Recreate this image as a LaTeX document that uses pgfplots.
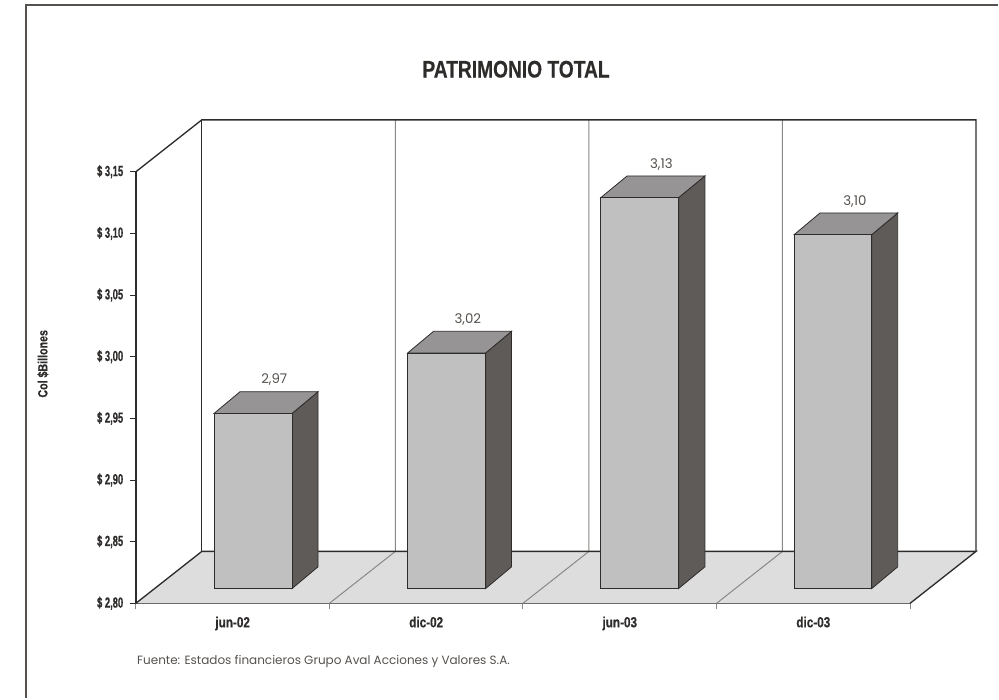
\documentclass[border=0pt]{standalone}
\usepackage{fontspec}
\usepackage{pgfplots}
\usepackage{pgfplotstable}
\pgfplotsset{compat=1.18}
\setmainfont{Liberation Sans}
\newfontfamily\narrow[FakeStretch=0.8,BoldFeatures={FakeBold=0.4}]{Liberation Sans}
\newfontfamily\tightsans[FakeStretch=0.64,BoldFeatures={FakeBold=0.4}]{Liberation Sans}
\newfontfamily\geo{Poppins}
\definecolor{floorgray}{HTML}{DDDDDD}
\definecolor{frontgray}{HTML}{C0C0C0}
\definecolor{topgray}{HTML}{969494}
\definecolor{sidegray}{HTML}{5F5B59}
\definecolor{edge}{HTML}{2E2C2B}
\definecolor{wall}{HTML}{8A8886}
\definecolor{framec}{HTML}{55514E}

% value labels: placed just over the back edge of each bar top
\pgfplotstableread{
x     y       lab
0.715 2.9716  2,97
1.715 3.0206  3,02
2.715 3.1466  3,13
3.715 3.1166  3,10
}\barlabels

\begin{document}
\begin{tikzpicture}
\begin{axis}[
    scale only axis,
    width=581.25pt,
    height=324pt,
    xmin=0, xmax=4,
    ymin=2.80, ymax=3.15,
    clip=false,
    axis lines=left,
    axis line style={-, edge, line width=1pt},
    tick align=outside,
    major tick length=4.5pt,
    minor tick length=4.5pt,
    xtick={0.5,1.5,2.5,3.5},
    xticklabels={jun-02,dic-02,jun-03,dic-03},
    minor xtick={0,1,2,3,4},
    major x tick style={draw=none},
    minor x tick style={wall, line width=0.75pt},
    ytick={2.80,2.85,2.90,2.95,3.00,3.05,3.10,3.15},
    yticklabels={{\$ 2,80},{\$ 2,85},{\$ 2,90},{\$ 2,95},{\$ 3,00},{\$ 3,05},{\$ 3,10},{\$ 3,15}},
    y tick style={edge, line width=0.75pt},
    xticklabel style={font=\narrow\bfseries\fontsize{11}{12}\selectfont, text=edge, yshift=-2pt},
    yticklabel style={font=\tightsans\bfseries\fontsize{11}{12}\selectfont, text=edge, xshift=-1.5pt},
    title={PATRIMONIO TOTAL},
    title style={at={(axis description cs:0.491,1.219)}, anchor=center,
        font=\narrow\bfseries\fontsize{18}{20}\selectfont, text=edge},
    ylabel={Col \$Billones},
    every axis y label/.style={at={(axis description cs:-0.12,0.555)}, anchor=center, rotate=90,
        font=\narrow\bfseries\fontsize{10}{11}\selectfont, text=edge},
]
% floor and walls
\addplot[fill=floorgray, draw=none] coordinates {(0,2.80) (4,2.80) (4.3406,2.8421) (0.3406,2.8421)} --cycle;
\addplot[wall, line width=0.75pt] coordinates {(1,2.80) (1.3406,2.8421) (1.3406,3.1921)};
\addplot[wall, line width=0.75pt] coordinates {(2,2.80) (2.3406,2.8421) (2.3406,3.1921)};
\addplot[wall, line width=0.75pt] coordinates {(3,2.80) (3.3406,2.8421) (3.3406,3.1921)};
\addplot[edge, line width=1pt] coordinates {(0,2.80) (0.3406,2.8421) (4.3406,2.8421) (4,2.80)};
\addplot[edge, line width=1pt] coordinates {(0,3.15) (0.3406,3.1921) (4.3406,3.1921) (4.3406,2.8421)};
\addplot[edge, line width=1pt] coordinates {(0.3406,3.1921) (0.3406,2.8421)};
% bar 1
\addplot[fill=sidegray, draw=edge, line width=0.6pt] coordinates {(0.807,2.812) (0.941,2.8296) (0.941,2.9716) (0.807,2.954)} --cycle;
\addplot[fill=topgray, draw=edge, line width=0.6pt] coordinates {(0.404,2.954) (0.807,2.954) (0.941,2.9716) (0.538,2.9716)} --cycle;
\addplot[fill=frontgray, draw=edge, line width=0.6pt] coordinates {(0.404,2.812) (0.807,2.812) (0.807,2.954) (0.404,2.954)} --cycle;
% bar 2
\addplot[fill=sidegray, draw=edge, line width=0.6pt] coordinates {(1.807,2.812) (1.941,2.8296) (1.941,3.0206) (1.807,3.003)} --cycle;
\addplot[fill=topgray, draw=edge, line width=0.6pt] coordinates {(1.404,3.003) (1.807,3.003) (1.941,3.0206) (1.538,3.0206)} --cycle;
\addplot[fill=frontgray, draw=edge, line width=0.6pt] coordinates {(1.404,2.812) (1.807,2.812) (1.807,3.003) (1.404,3.003)} --cycle;
% bar 3
\addplot[fill=sidegray, draw=edge, line width=0.6pt] coordinates {(2.804,2.812) (2.94,2.8296) (2.94,3.1466) (2.804,3.129)} --cycle;
\addplot[fill=topgray, draw=edge, line width=0.6pt] coordinates {(2.402,3.129) (2.804,3.129) (2.94,3.1466) (2.538,3.1466)} --cycle;
\addplot[fill=frontgray, draw=edge, line width=0.6pt] coordinates {(2.402,2.812) (2.804,2.812) (2.804,3.129) (2.402,3.129)} --cycle;
% bar 4
\addplot[fill=sidegray, draw=edge, line width=0.6pt] coordinates {(3.802,2.812) (3.936,2.8296) (3.936,3.1166) (3.802,3.099)} --cycle;
\addplot[fill=topgray, draw=edge, line width=0.6pt] coordinates {(3.401,3.099) (3.802,3.099) (3.936,3.1166) (3.535,3.1166)} --cycle;
\addplot[fill=frontgray, draw=edge, line width=0.6pt] coordinates {(3.401,2.812) (3.802,2.812) (3.802,3.099) (3.401,3.099)} --cycle;
% value labels
\addplot[draw=none, nodes near coords, point meta=explicit symbolic,
    every node near coord/.style={anchor=south, yshift=1pt, text=framec,
        font=\geo\fontsize{10}{11}\selectfont}]
    table[x=x, y=y, meta=lab] {\barlabels};
% outer frame, only left and top are drawn in the original, page bounds
\draw[framec, line width=1.5pt] (axis cs:-0.5678,2.7230) -- (axis cs:-0.5678,3.2855) -- (axis cs:4.4542,3.2855);
\path (axis cs:-0.7020,2.7230) rectangle (axis cs:4.4542,3.2893);
\node[anchor=west, inner sep=0pt, text=framec, font=\geo\fontsize{9}{10}\selectfont]
    at (axis cs:0.005,2.7527) {Fuente: Estados financieros Grupo Aval Acciones y Valores S.A.};
\end{axis}
\end{tikzpicture}
\end{document}
